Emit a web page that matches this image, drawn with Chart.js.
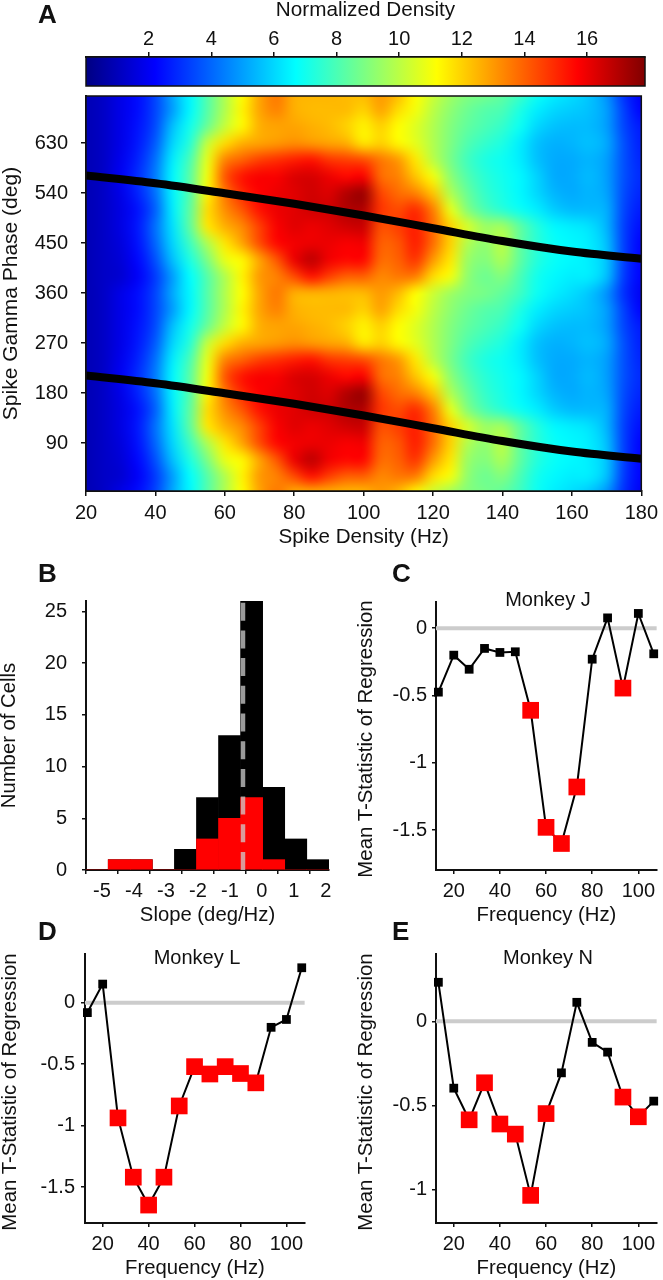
<!DOCTYPE html>
<html>
<head>
<meta charset="utf-8">
<title>Spike density and gamma phase</title>
<script src="https://cdn.jsdelivr.net/npm/chart.js@4"></script>
<style>
  html, body { margin: 0; padding: 0; background: #fff; overflow: hidden; }
  body { position: relative; width: 663px; height: 1280px; font-family: "Liberation Sans", Arial, sans-serif; color: #111; }
  canvas { position: absolute; display: block; }
  .letter { position: absolute; font-size: 26px; font-weight: bold; line-height: 26px; }
  .monkey { position: absolute; font-size: 20px; line-height: 24px; width: 160px; text-align: center; }
  .ytitle { position: absolute; font-size: 20.4px; line-height: 24px; width: 300px; height: 24px; margin-left: -150px; margin-top: -12px; text-align: center; transform: rotate(-90deg); white-space: nowrap; }
</style>
</head>
<body>
<canvas id="colorbar"></canvas>
<canvas id="heatmap"></canvas>
<canvas id="histogram"></canvas>
<canvas id="monkeyJ"></canvas>
<canvas id="monkeyL"></canvas>
<canvas id="monkeyN"></canvas>
<div class="letter" style="left:38px;top:1px">A</div>
<div class="letter" style="left:38px;top:560px">B</div>
<div class="letter" style="left:392px;top:560px">C</div>
<div class="letter" style="left:38px;top:918px">D</div>
<div class="letter" style="left:392px;top:918px">E</div>
<div class="monkey" style="left:468px;top:587px">Monkey J</div>
<div class="monkey" style="left:117px;top:945px">Monkey L</div>
<div class="monkey" style="left:468px;top:945px">Monkey N</div>
<div class="ytitle" style="left:365px;top:739px">Mean T-Statistic of Regression</div>
<div class="ytitle" style="left:9px;top:1092px">Mean T-Statistic of Regression</div>
<div class="ytitle" style="left:365px;top:1092px">Mean T-Statistic of Regression</div>
<script>
// Panel A
const colorbarTicks = [2, 4, 6, 8, 10, 12, 14, 16];
const phaseTicks = [90, 180, 270, 360, 450, 540, 630];
const densityTicks = [20, 40, 60, 80, 100, 120, 140, 160, 180];
const jetValues = [0, 2.2, 6.7, 11.2, 15.7, 17.85];
const jetColors = [[0, 0, 130], [0, 0, 255], [0, 255, 255], [255, 255, 0], [255, 0, 0], [128, 0, 0]];

const densityX = [20, 25, 30, 35, 40, 45, 50, 55, 60, 65, 70, 75, 80, 85, 90, 95, 100, 105, 110, 115, 120, 125, 130, 135, 140, 145, 150, 155, 160, 165, 170, 175, 180];
const phaseY = [0, 30, 60, 90, 120, 150, 180, 210, 240, 270, 300, 330, 360, 390, 420, 450, 480, 510, 540, 570, 600, 630, 660, 690, 720];
// the picture shows one cycle twice, so the rows are read once (0 to 330 deg)
const cycleRows = [
  [0.9, 1.2, 1.8, 2.4, 3.4, 5.2, 6.6, 8.2, 9.8, 11.2, 12.8, 13.6, 12.6, 12.5, 12.5, 12.4, 12.4, 13, 12.4, 11.2, 10.3, 9.5, 9, 8.8, 8.4, 7.8, 6.9, 6.4, 6.1, 5.7, 4.8, 3, 2],
  [0.9, 1.2, 1.4, 2.1, 3.2, 5, 6.7, 8.2, 9.8, 11.4, 13, 13.4, 14.4, 15.4, 14.6, 14, 14, 13.3, 13.6, 13.5, 11.8, 11, 9.2, 8.6, 9, 8, 7, 6.6, 6.4, 6.4, 5.6, 3.2, 2.2],
  [0.9, 1.2, 1.5, 2.3, 3.6, 5.6, 7.2, 8.9, 10.8, 11.3, 12.8, 14.2, 16, 16.8, 15.9, 15.6, 15.6, 13.8, 14, 14.8, 13, 11.6, 9.4, 9, 9.7, 8.4, 7.3, 6.8, 6.6, 6.4, 5.7, 3.3, 2.2],
  [0.9, 1.2, 1.6, 2.5, 4, 6, 7.8, 9.8, 11.6, 12.8, 14.4, 15.6, 15.9, 16, 16, 15.8, 15.9, 14, 14.2, 15.2, 13.8, 12, 9.8, 9.2, 10, 8.4, 7.4, 6.8, 6.6, 6.4, 5.6, 3.3, 2.2],
  [0.9, 1.2, 1.7, 2.6, 4.2, 6.2, 8.4, 11.6, 12.6, 13.3, 14.6, 15.8, 16.2, 16, 16.2, 16.5, 16.6, 14.3, 14.6, 15.2, 13.8, 12, 10.5, 9.5, 9.6, 8.4, 7.3, 6.6, 6.4, 6.2, 5.4, 3.3, 2.4],
  [0.9, 1.2, 1.7, 2.5, 3.9, 6.4, 8.4, 11.8, 13.2, 14.2, 15.4, 16, 16.2, 16.5, 16.5, 17, 17, 14.8, 14.4, 15, 13.5, 10.8, 9, 8, 7.4, 6.9, 6.4, 5.8, 5.5, 5.5, 5.3, 3.4, 2.6],
  [0.9, 1.2, 1.8, 2.8, 4.2, 6.5, 8.2, 11.4, 13.6, 15, 15.7, 16, 16.2, 16.5, 16.3, 17, 17.4, 14.5, 13.8, 13.4, 12.2, 9.8, 8.5, 7.6, 7.1, 6.6, 6, 5.4, 5.2, 5.4, 5.1, 3.5, 2.8],
  [0.9, 1.2, 2, 3, 4.4, 6.6, 8.3, 11, 14.2, 15.4, 15.8, 15.8, 16.3, 16.4, 16, 15.6, 15.8, 13.8, 13.4, 12.2, 11, 9.2, 8.1, 7.4, 7, 6.6, 5.9, 5.2, 5.2, 5.5, 5, 3.6, 2.9],
  [0.9, 1.2, 1.9, 2.8, 4.2, 6.4, 8, 10.8, 13.4, 14, 14.6, 14.9, 15.2, 15.4, 14.8, 14.6, 14.4, 13.6, 13, 11.6, 10, 8.8, 7.8, 7.2, 6.9, 6.4, 5.6, 5.2, 5.2, 5.4, 5, 3.6, 2.8],
  [0.9, 1.2, 1.8, 2.6, 3.8, 6, 7.4, 10.2, 11.8, 12.6, 12.8, 13, 13.2, 13, 12.8, 12.6, 11.6, 12, 11.3, 10.7, 9.8, 8.9, 8.1, 7.6, 7.2, 6.4, 5.6, 5.3, 5.4, 5.6, 5.2, 3.6, 2.7],
  [0.9, 1.2, 1.8, 2.5, 3.5, 5.6, 7, 8.6, 10.2, 11.3, 12.6, 12.8, 12.8, 12.6, 12.4, 12, 11.4, 12, 11.2, 10.6, 9.8, 9, 8.4, 8, 7.6, 6.9, 6, 5.6, 5.5, 5.5, 5, 3.4, 2.6],
  [0.9, 1.2, 1.8, 2.4, 3.4, 5, 6.6, 8.2, 9.8, 11.4, 12.8, 13.4, 12.6, 12.4, 12.4, 12.4, 12, 12.8, 11.8, 11, 10, 9.2, 8.6, 8.2, 8, 7.2, 6.4, 6, 5.8, 5.6, 5, 3.3, 2.2]
];
const densityRows = [...cycleRows, ...cycleRows, cycleRows[0]];

const curveX = [20, 40, 60, 80, 100, 120, 140, 160, 180];
const upperCurve = [572, 558, 540, 521, 500, 477, 454, 435, 422];
const lowerCurve = [212, 198, 180, 161, 140, 117, 94, 75, 62];

// Panel B
const binCenters = [-5.15, -4.46, -3.77, -3.08, -2.39, -1.7, -1.01, -0.32, 0.37, 1.06, 1.75];
const allCells = [0, 1, 1, 0, 2, 7, 13, 26, 8, 3, 1];
const redCells = [0, 1, 1, 0, 0, 3, 5, 7, 1, 0, 0];
const slopeTicks = [-5, -4, -3, -2, -1, 0, 1, 2];
const cellTicks = [0, 5, 10, 15, 20, 25];
const meanSlope = -0.59;

// Panels C, D, E
const frequencies = [13.33, 20, 26.67, 33.33, 40, 46.67, 53.33, 60, 66.67, 73.33, 80, 86.67, 93.33, 100, 106.67];
const frequencyTicks = [20, 40, 60, 80, 100];
const monkeyJ = [-0.475, -0.2, -0.305, -0.15, -0.18, -0.175, -0.61, -1.48, -1.6, -1.18, -0.23, 0.077, -0.445, 0.11, -0.19];
const monkeyL = [-0.08, 0.152, -0.9375, -1.42, -1.647, -1.42, -0.84, -0.52, -0.58, -0.52, -0.576, -0.652, -0.2, -0.136, 0.285];
const monkeyN = [0.232, -0.397, -0.585, -0.365, -0.61, -0.67, -1.034, -0.548, -0.306, 0.113, -0.125, -0.183, -0.45, -0.567, -0.474];
const monkeyJRed = [6, 7, 8, 9, 12];
const monkeyLRed = [2, 3, 4, 5, 6, 7, 8, 9, 10, 11];
const monkeyNRed = [2, 3, 4, 5, 6, 7, 12, 13];
const monkeyJTicks = [0, -0.5, -1, -1.5];
const monkeyLTicks = [0, -0.5, -1, -1.5];
const monkeyNTicks = [0, -0.5, -1];

Chart.defaults.font.family = '"Liberation Sans", Arial, sans-serif';
Chart.defaults.font.size = 20;
Chart.defaults.color = '#111';

function place(id, left, top, width, height) {
  const canvas = document.getElementById(id);
  canvas.width = width;
  canvas.height = height;
  canvas.style.left = left + 'px';
  canvas.style.top = top + 'px';
  return canvas.getContext('2d');
}

function jet(value) {
  for (let i = 1; i < jetValues.length; i++) {
    if (value <= jetValues[i]) {
      const t = (value - jetValues[i - 1]) / (jetValues[i] - jetValues[i - 1]);
      return jetColors[i].map((c, k) => Math.round(jetColors[i - 1][k] + (c - jetColors[i - 1][k]) * t));
    }
  }
  return jetColors[jetColors.length - 1];
}

function axis(min, max, ticks, size, title, titleSize, labelPadding, tickLength) {
  return {
    type: 'linear',
    min: min,
    max: max,
    offset: false,
    afterBuildTicks: scale => { scale.ticks = ticks.map(v => ({ value: v })); },
    afterFit: scale => {
      if (scale.isHorizontal()) scale.height = size;
      else scale.width = size;
    },
    grid: { drawOnChartArea: false, drawTicks: true, tickLength: tickLength, color: '#111', lineWidth: 1.5 },
    border: { display: true, color: '#111', width: 2 },
    ticks: { padding: labelPadding, maxRotation: 0, autoSkip: false, callback: v => String(v) },
    title: { display: !!title, text: title, padding: 0, font: { size: titleSize } }
  };
}

const frame = {
  id: 'frame',
  afterDatasetsDraw(chart) {
    const { ctx, chartArea: a } = chart;
    ctx.save();
    ctx.strokeStyle = '#111';
    ctx.lineWidth = 1.5;
    ctx.strokeRect(a.left, a.top, a.right - a.left, a.bottom - a.top);
    ctx.restore();
  }
};

const colorbarFill = {
  id: 'colorbarFill',
  beforeDatasetsDraw(chart) {
    const { ctx, chartArea: a, scales } = chart;
    const gradient = ctx.createLinearGradient(a.left, 0, a.right, 0);
    jetValues.forEach((v, i) => {
      const stop = (scales.x.getPixelForValue(v) - a.left) / (a.right - a.left);
      gradient.addColorStop(stop, `rgb(${jetColors[i].join(',')})`);
    });
    ctx.fillStyle = gradient;
    ctx.fillRect(a.left, a.top, a.right - a.left, a.bottom - a.top);
  }
};

const heatCells = {
  id: 'heatCells',
  beforeDatasetsDraw(chart) {
    const { ctx, chartArea: a, scales } = chart;
    const small = document.createElement('canvas');
    small.width = densityX.length;
    small.height = phaseY.length;
    const sctx = small.getContext('2d');
    densityRows.forEach((row, r) => {
      row.forEach((v, c) => {
        sctx.fillStyle = `rgb(${jet(v).join(',')})`;
        sctx.fillRect(c, phaseY.length - 1 - r, 1, 1);
      });
    });
    const x0 = scales.x.getPixelForValue(densityX[0] - 2.5);
    const x1 = scales.x.getPixelForValue(densityX[densityX.length - 1] + 2.5);
    const y0 = scales.y.getPixelForValue(phaseY[phaseY.length - 1] + 15);
    const y1 = scales.y.getPixelForValue(phaseY[0] - 15);
    ctx.save();
    ctx.beginPath();
    ctx.rect(a.left, a.top, a.right - a.left, a.bottom - a.top);
    ctx.clip();
    ctx.imageSmoothingEnabled = true;
    ctx.imageSmoothingQuality = 'high';
    ctx.drawImage(small, x0, y0, x1 - x0, y1 - y0);
    ctx.restore();
  }
};

new Chart(place('colorbar', 0, -2, 663, 92), {
  type: 'scatter',
  data: { datasets: [] },
  plugins: [colorbarFill, frame],
  options: {
    animation: false,
    responsive: false,
    layout: { padding: { left: 86, right: 18, bottom: 4 } },
    plugins: { legend: { display: false }, tooltip: { enabled: false } },
    scales: {
      x: Object.assign(axis(0, 17.85, colorbarTicks, 59, 'Normalized Density', 20.7, 1, 5), { position: 'top' }),
      y: { display: false, min: 0, max: 1 }
    }
  }
});

new Chart(place('heatmap', -1, 66, 664, 484), {
  type: 'line',
  data: {
    datasets: [upperCurve, lowerCurve].map(curve => ({
      data: curve.map((y, i) => ({ x: curveX[i], y: y })),
      borderColor: '#000',
      borderWidth: 8,
      pointRadius: 0,
      cubicInterpolationMode: 'monotone'
    }))
  },
  plugins: [heatCells, frame],
  options: {
    animation: false,
    responsive: false,
    layout: { padding: { top: 30, right: 18 } },
    plugins: { legend: { display: false }, tooltip: { enabled: false } },
    scales: {
      x: axis(20, 180, densityTicks, 59, 'Spike Density (Hz)', 20.6, 5, 5),
      y: axis(4, 715, phaseTicks, 87, 'Spike Gamma Phase (deg)', 21, 13, 5)
    }
  }
});

new Chart(place('histogram', -3, 571, 348, 357), {
  type: 'bar',
  data: {
    datasets: [
      {
        type: 'line',
        order: 0,
        data: [{ x: meanSlope, y: 0 }, { x: meanSlope, y: 26 }],
        borderColor: 'rgba(205,205,205,0.75)',
        borderWidth: 4.5,
        borderDash: [18, 9.7],
        pointRadius: 0
      },
      {
        order: 1,
        data: binCenters.map((x, i) => ({ x: x, y: redCells[i] })),
        backgroundColor: '#ff0000',
        barPercentage: 1,
        categoryPercentage: 1,
        grouped: false
      },
      {
        order: 2,
        data: binCenters.map((x, i) => ({ x: x, y: allCells[i] })),
        backgroundColor: '#000',
        barPercentage: 1,
        categoryPercentage: 1,
        grouped: false
      }
    ]
  },
  options: {
    animation: false,
    responsive: false,
    layout: { padding: { top: 30, right: 16 } },
    plugins: { legend: { display: false }, tooltip: { enabled: false } },
    scales: {
      x: axis(-5.5, 2.1, slopeTicks, 58, 'Slope (deg/Hz)', 20.3, 5, 4),
      y: axis(0, 26, cellTicks, 89, 'Number of Cells', 20.3, 15, 4)
    }
  }
});

function tuningChart(id, left, top, height, plotLeft, plotRight, yMin, yMax, values, red, yTicks, labelPadding) {
  const width = Math.min(plotRight + 1, 663) - left;
  return new Chart(place(id, left, top, width, height), {
    type: 'line',
    data: {
      datasets: [
        {
          order: 1,
          data: frequencies.map((x, i) => ({ x: x, y: values[i] })),
          borderColor: '#000',
          borderWidth: 2,
          clip: false,
          pointStyle: 'rect',
          pointBorderWidth: 0,
          pointRadius: c => red.includes(c.dataIndex) ? 11.8 : 6.2,
          pointBackgroundColor: c => red.includes(c.dataIndex) ? '#ff0000' : '#000'
        },
        {
          order: 2,
          data: [{ x: 12, y: 0 }, { x: 108, y: 0 }],
          borderColor: '#cccccc',
          borderWidth: 4,
          pointRadius: 0
        }
      ]
    },
    options: {
      animation: false,
      responsive: false,
      layout: { padding: { top: 20, right: width + left - plotRight } },
      plugins: { legend: { display: false }, tooltip: { enabled: false } },
      scales: {
        x: axis(12.3, 108, frequencyTicks, 58, 'Frequency (Hz)', 20.3, 5, 4),
        y: axis(yMin, yMax, yTicks, plotLeft - left, '', 20.4, labelPadding, 4)
      }
    }
  });
}

tuningChart('monkeyJ', 353, 582, 346, 436, 662, -1.797, 0.195, monkeyJ, monkeyJRed, monkeyJTicks, 5);
tuningChart('monkeyL', -3, 934, 347, 85, 310, -1.793, 0.397, monkeyL, monkeyLRed, monkeyLTicks, 6);
tuningChart('monkeyN', 353, 934, 347, 436, 662, -1.198, 0.4, monkeyN, monkeyNRed, monkeyNTicks, 5);
</script>
</body>
</html>
